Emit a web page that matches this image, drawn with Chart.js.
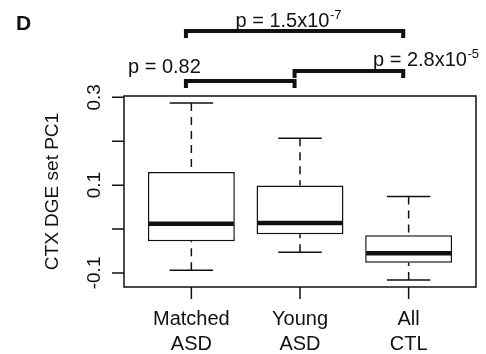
<!DOCTYPE html>
<html>
<head>
<meta charset="utf-8">
<script src="https://cdn.jsdelivr.net/npm/chart.js@4.4.1/dist/chart.umd.min.js"></script>
<style>
html, body { margin: 0; padding: 0; background: #fff; }
#wrap { width: 486px; height: 354px; }
</style>
</head>
<body>
<div id="wrap"><canvas id="myChart"></canvas></div>
<script>
// box statistics
var groups = [['Matched', 'ASD'], ['Young', 'ASD'], ['All', 'CTL']];
var groupPos = [1, 2, 3];
var lowWhisker = [-0.094, -0.053, -0.116];
var q1 = [-0.028, -0.012, -0.077];
var median = [0.012, 0.014, -0.055];
var q3 = [0.130, 0.099, -0.014];
var highWhisker = [0.287, 0.207, 0.074];

var yTicks = [-0.1, 0, 0.1, 0.2, 0.3];
var yTickLabels = ['-0.1', '', '0.1', '', '0.3'];

// pairwise tests (group numbers) and their p values
var pFrom = [1, 2, 1];
var pTo = [2, 3, 3];
var pText = ['p = 0.82', 'p = 2.8x10', 'p = 1.5x10'];
var pExp = ['', '-5', '-7'];

var FONT = "'Liberation Sans', Arial, sans-serif";
var INK = '#111';

var boxExtras = {
    id: 'boxExtras',
    afterDatasetsDraw: function(chart) {
        var ctx = chart.ctx;
        var xs = chart.scales.x, ys = chart.scales.y;
        var a = chart.chartArea;
        var half = xs.getPixelForValue(1.4) - xs.getPixelForValue(1);

        ctx.save();
        ctx.strokeStyle = INK;
        ctx.fillStyle = INK;

        // whiskers, caps, medians
        for (var i = 0; i < groupPos.length; i++) {
            var cx = xs.getPixelForValue(groupPos[i]);
            ctx.lineWidth = 1.5;
            ctx.setLineDash([8, 6]);
            ctx.beginPath();
            ctx.moveTo(cx, ys.getPixelForValue(highWhisker[i]));
            ctx.lineTo(cx, ys.getPixelForValue(q3[i]));
            ctx.moveTo(cx, ys.getPixelForValue(lowWhisker[i]));
            ctx.lineTo(cx, ys.getPixelForValue(q1[i]));
            ctx.stroke();
            ctx.setLineDash([]);
            ctx.beginPath();
            [highWhisker[i], lowWhisker[i]].forEach(function(v) {
                var py = ys.getPixelForValue(v);
                ctx.moveTo(cx - half / 2, py);
                ctx.lineTo(cx + half / 2, py);
            });
            ctx.stroke();
            ctx.lineWidth = 4.5;
            ctx.beginPath();
            var my = ys.getPixelForValue(median[i]);
            ctx.moveTo(cx - half + 1, my);
            ctx.lineTo(cx + half - 1, my);
            ctx.stroke();
        }

        // frame
        ctx.lineWidth = 1.5;
        ctx.strokeRect(a.left, a.top, a.right - a.left, a.bottom - a.top);

        // y axis
        ctx.beginPath();
        yTicks.forEach(function(v) {
            var py = ys.getPixelForValue(v);
            ctx.moveTo(a.left - 12, py);
            ctx.lineTo(a.left, py);
        });
        ctx.stroke();
        ctx.font = '19px ' + FONT;
        ctx.textAlign = 'center';
        ctx.textBaseline = 'alphabetic';
        yTicks.forEach(function(v, i) {
            if (!yTickLabels[i]) return;
            ctx.save();
            ctx.translate(a.left - 24, ys.getPixelForValue(v));
            ctx.rotate(-Math.PI / 2);
            ctx.fillText(yTickLabels[i], 0, 0);
            ctx.restore();
        });
        ctx.save();
        ctx.translate(58, (a.top + a.bottom) / 2);
        ctx.rotate(-Math.PI / 2);
        ctx.fillText('CTX DGE set PC1', 0, 0);
        ctx.restore();

        // x axis
        ctx.beginPath();
        groupPos.forEach(function(v) {
            var px = xs.getPixelForValue(v);
            ctx.moveTo(px, a.bottom);
            ctx.lineTo(px, a.bottom + 12);
        });
        ctx.stroke();
        ctx.font = '20px ' + FONT;
        groupPos.forEach(function(v, i) {
            var px = xs.getPixelForValue(v);
            ctx.fillText(groups[i][0], px, a.bottom + 38);
            ctx.fillText(groups[i][1], px, a.bottom + 63);
        });

        // panel letter
        ctx.textAlign = 'left';
        ctx.font = 'bold 21px ' + FONT;
        ctx.fillText('D', 16, 30);

        // comparison brackets
        var barY = [81, 71, 31];
        var textPos = [[128, 72.5], [373, 65.5], [235.5, 26.5]];
        ctx.lineWidth = 4;
        for (var k = 0; k < pFrom.length; k++) {
            var x1 = xs.getPixelForValue(pFrom[k] - 0.05);
            var x2 = xs.getPixelForValue(pTo[k] - 0.05);
            ctx.beginPath();
            ctx.moveTo(x1, barY[k] + 7);
            ctx.lineTo(x1, barY[k]);
            ctx.lineTo(x2, barY[k]);
            ctx.lineTo(x2, barY[k] + 7);
            ctx.stroke();
            ctx.font = '20px ' + FONT;
            ctx.fillText(pText[k], textPos[k][0], textPos[k][1]);
            if (pExp[k]) {
                var w = ctx.measureText(pText[k]).width;
                ctx.font = '13px ' + FONT;
                ctx.fillText(pExp[k], textPos[k][0] + w + 0.5, textPos[k][1] - 8);
            }
        }
        ctx.restore();
    }
};

var ctx = document.getElementById('myChart').getContext('2d');
var chart = new Chart(ctx, { //eslint-disable-line
    type: 'bar',
    data: {
        datasets: [{
            data: groupPos.map(function(p, i) { return { x: p, y: [q1[i], q3[i]] }; }),
            backgroundColor: '#fff',
            borderColor: INK,
            borderWidth: 1.5,
            borderSkipped: false,
            barPercentage: 1.0,
            categoryPercentage: 0.8
        }]
    },
    options: {
        responsive: true,
        maintainAspectRatio: false,
        animation: false,
        layout: { padding: { left: 124, right: 10, top: 96, bottom: 67 } },
        plugins: { legend: { display: false }, tooltip: { enabled: false } },
        scales: {
            x: {
                type: 'linear', min: 0.38, max: 3.62, display: false,
                offset: false, grid: { offset: false },
                afterBuildTicks: function(s) { s.ticks = groupPos.map(function(v) { return { value: v }; }); }
            },
            y: {
                min: -0.1321, max: 0.3031, display: false,
                afterBuildTicks: function(s) { s.ticks = yTicks.map(function(v) { return { value: v }; }); }
            }
        }
    },
    plugins: [boxExtras]
});
</script>
</body>
</html>
